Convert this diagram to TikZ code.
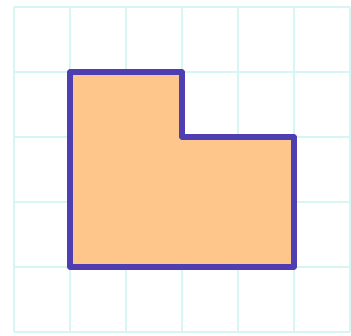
\documentclass[tikz,border=0pt]{standalone}
\usepackage{tikz}

\definecolor{gridcyan}{RGB}{215,245,242}
\definecolor{shapefill}{RGB}{255,198,140}
\definecolor{shapeedge}{RGB}{78,62,178}

\tikzset{
	grid line/.style={draw=gridcyan, line width=0.8pt},
	figure shape/.style={fill=shapefill, draw=shapeedge, line width=3.2pt, line join=round}
}

\begin{document}
\begin{tikzpicture}[x=1.12cm, y=1.3cm]
% canvas
\useasboundingbox (-0.25,-0.046) rectangle (6.018,5.108);

% grid lines
\foreach \x in {0,...,6}
	\draw [grid line] (\x,0) -- (\x,5);
\foreach \y in {0,...,5}
	\draw [grid line] (0,\y) -- (6,\y);

% shape
\draw [figure shape] (1,4) -- (3,4) -- (3,3) -- (5,3) -- (5,1) -- (1,1) -- cycle;

\end{tikzpicture}
\end{document}
